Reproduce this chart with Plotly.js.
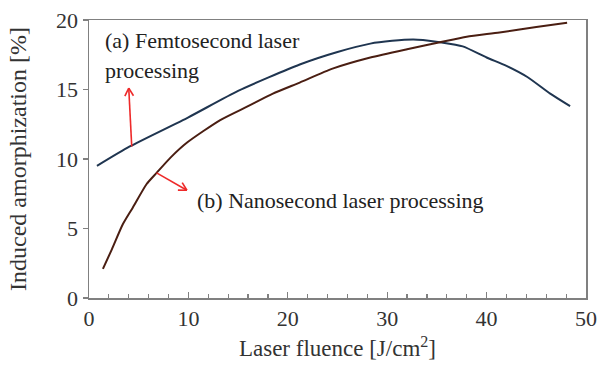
<!DOCTYPE html>
<html><head><meta charset="utf-8">
<script src="https://cdn.plot.ly/plotly-3.0.1.min.js"></script>
<style>body{margin:0;background:#fff}#c{width:599px;height:367px}</style>
</head><body><div id="c"></div>
<script>
const femtoX = [0.8, 4.1, 10, 15, 21.2, 25, 28.3, 30.5, 32.6, 33.6, 35.3, 37.6, 40.0, 42, 44.1, 46.4, 48.4];
const femtoY = [9.5, 10.9, 13.0, 14.9, 16.8, 17.7, 18.3, 18.5, 18.6, 18.56, 18.4, 18.1, 17.3, 16.7, 15.9, 14.7, 13.8];
const nanoX = [1.4, 2.3, 3.4, 4.4, 5.8, 6.8, 8.2, 9.9, 13.2, 16, 18.5, 21.2, 24.5, 28.3, 32, 35.3, 38, 41.3, 45, 48.1];
const nanoY = [2.1, 3.5, 5.3, 6.5, 8.2, 9.0, 10.1, 11.2, 12.8, 13.8, 14.7, 15.5, 16.5, 17.3, 17.9, 18.4, 18.8, 19.1, 19.5, 19.8];
const xTicks = [0, 10, 20, 30, 40, 50];
const yTicks = [0, 5, 10, 15, 20];
const labelA1 = '(a) Femtosecond laser';
const labelA2 = 'processing';
const labelB = '(b) Nanosecond laser processing';
// arrows: tail (on curve) -> tip
const arrowTail = [[4.3, 10.9], [6.8, 9.0]];
const arrowTip = [[4.0, 15.1], [9.85, 7.75]];

const W = 599, H = 367, M = {l: 89, r: 13, t: 20, b: 69};
const xR = [0, 50], yR = [0, 20];
const pxX = (W - M.l - M.r) / (xR[1] - xR[0]);
const pxY = (H - M.t - M.b) / (yR[1] - yR[0]);

const serif = "Liberation Serif, Times New Roman, serif";
const red = '#ee2a2a';
const shapes = [];
arrowTail.forEach((t, i) => {
  const p = arrowTip[i];
  shapes.push({type: 'line', xref: 'x', yref: 'y', x0: t[0], y0: t[1], x1: p[0], y1: p[1], line: {color: red, width: 1.6}});
  const dx = (p[0] - t[0]) * pxX, dy = (p[1] - t[1]) * pxY;
  const len = Math.hypot(dx, dy), ux = dx / len, uy = dy / len;
  const hl = 9, ang = 0.5;
  [ang, -ang].forEach(a => {
    const bx = -(ux * Math.cos(a) - uy * Math.sin(a)) * hl;
    const by = -(ux * Math.sin(a) + uy * Math.cos(a)) * hl;
    shapes.push({type: 'line', xref: 'x', yref: 'y', x0: p[0], y0: p[1], x1: p[0] + bx / pxX, y1: p[1] + by / pxY, line: {color: red, width: 1.6}});
  });
});

const traces = [
  {x: femtoX, y: femtoY, mode: 'lines', line: {color: '#1f3550', width: 2, shape: 'spline', smoothing: 0.6}, name: 'Femtosecond'},
  {x: nanoX, y: nanoY, mode: 'lines', line: {color: '#4a1e12', width: 2, shape: 'spline', smoothing: 0.6}, name: 'Nanosecond'}
];
const layout = {
  width: W, height: H,
  margin: M,
  showlegend: false,
  paper_bgcolor: '#fff', plot_bgcolor: '#fff',
  font: {family: serif, color: '#333', size: 22},
  xaxis: {
    range: xR, tickvals: xTicks, ticktext: xTicks.map(String),
    showgrid: false, zeroline: false, showline: true, linecolor: '#808080', linewidth: 1.5, mirror: true,
    ticks: 'inside', ticklen: 6, tickcolor: '#808080', tickwidth: 1.3,
    minor: {dtick: 2, ticks: 'inside', ticklen: 4, tickcolor: '#808080', tickwidth: 1.2},
    tickfont: {family: serif, size: 22, color: '#333'},
    title: {text: 'Laser fluence [J/cm<sup>2</sup>]', font: {family: serif, size: 23, color: '#333'}, standoff: 10}
  },
  yaxis: {
    range: yR, tickvals: yTicks, ticktext: yTicks.map(String),
    showgrid: false, zeroline: false, showline: true, linecolor: '#808080', linewidth: 1.5, mirror: true,
    ticks: 'outside', ticklen: 5, tickcolor: '#808080', tickwidth: 1.3,
    tickfont: {family: serif, size: 22, color: '#333'},
    title: {text: 'Induced amorphization [%]', font: {family: serif, size: 24, color: '#333'}, standoff: 22}
  },
  shapes: shapes,
  annotations: [
    {x: 1.4, y: 18.56, xref: 'x', yref: 'y', text: labelA1, showarrow: false, xanchor: 'left', yanchor: 'middle', font: {family: serif, size: 22, color: '#222'}},
    {x: 1.4, y: 16.4, xref: 'x', yref: 'y', text: labelA2, showarrow: false, xanchor: 'left', yanchor: 'middle', font: {family: serif, size: 22, color: '#222'}},
    {x: 10.66, y: 7.05, xref: 'x', yref: 'y', text: labelB, showarrow: false, xanchor: 'left', yanchor: 'middle', font: {family: serif, size: 22, color: '#222'}}
  ]
};
Plotly.newPlot('c', traces, layout, {displayModeBar: false, staticPlot: true});
</script></body></html>
